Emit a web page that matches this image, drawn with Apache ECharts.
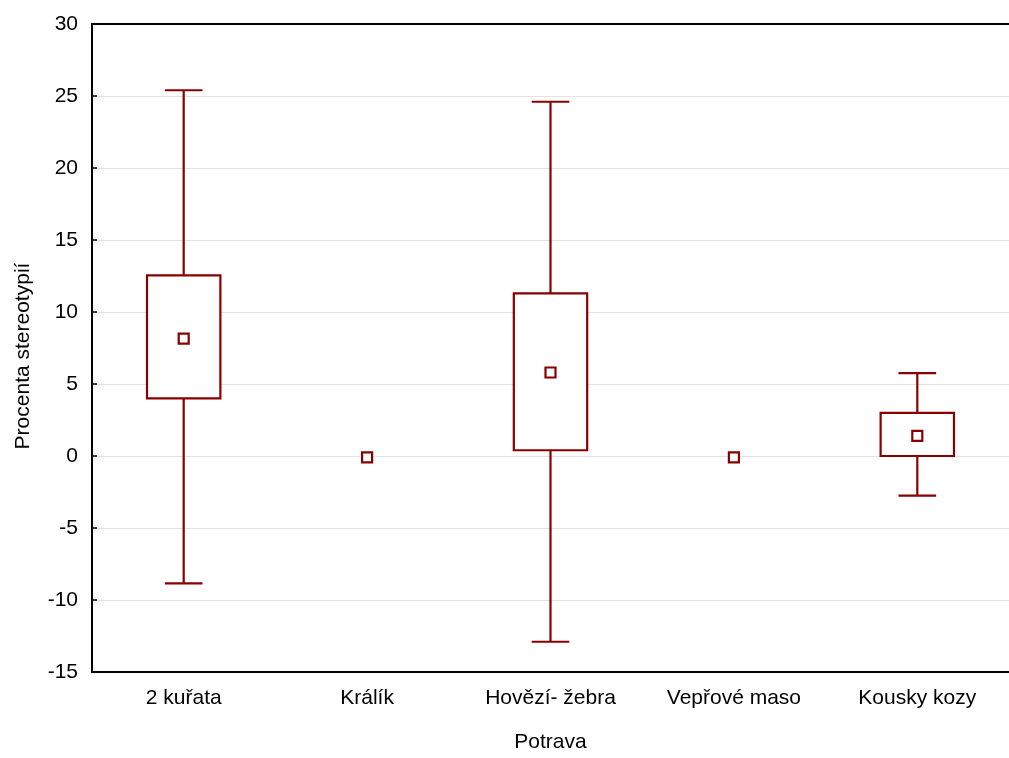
<!DOCTYPE html>
<html>
<head>
<meta charset="utf-8">
<script src="https://cdn.jsdelivr.net/npm/echarts@6/dist/echarts.min.js"></script>
<style>
html,body{margin:0;padding:0;background:#fff;}
#chart{width:1009px;height:758px;}
</style>
</head>
<body>
<div id="chart"></div>
<script>
const categories = ['2 kuřata', 'Králík', 'Hovězí- žebra', 'Vepřové maso', 'Kousky kozy'];
const whiskerLow  = [-8.85, null, -12.9, null, -2.75];
const boxLow      = [4.0,   null, 0.4,   null, 0.0];
const boxHigh     = [12.55, null, 11.3,  null, 3.0];
const whiskerHigh = [25.4,  null, 24.6,  null, 5.75];
const means       = [8.15, -0.1, 5.8, -0.1, 1.4];
const yTicks = { min: -15, max: 30, interval: 5 };

const COLOR = '#880000';
const FONT = 'Liberation Sans, Arial, Helvetica, sans-serif';

const boxData = [];
categories.forEach((c, i) => {
  if (boxLow[i] !== null) boxData.push([i, whiskerLow[i], boxLow[i], boxHigh[i], whiskerHigh[i]]);
});

const chart = echarts.init(document.getElementById('chart'), null, { renderer: 'canvas' });
chart.setOption({
  animation: false,
  backgroundColor: '#fff',
  textStyle: { fontFamily: FONT },
  grid: { left: 92, top: 24, bottom: 79, width: 922, containLabel: false },
  xAxis: [
    {
      type: 'category', data: categories, position: 'bottom', boundaryGap: true,
      name: 'Potrava', nameLocation: 'middle', nameGap: 60,
      nameTextStyle: { fontSize: 21, color: '#000', fontFamily: FONT },
      axisLine: { onZero: false, lineStyle: { color: '#000', width: 2 } },
      axisTick: { inside: true, length: 5, alignWithLabel: true, lineStyle: { color: '#000', width: 1.5 } },
      axisLabel: { fontSize: 21, color: '#000', margin: 16, fontFamily: FONT },
      splitLine: { show: false }
    },
    {
      type: 'category', data: categories, position: 'top', boundaryGap: true,
      axisLine: { onZero: false, lineStyle: { color: '#000', width: 2 } },
      axisTick: { inside: true, length: 5, alignWithLabel: true, lineStyle: { color: '#000', width: 1.5 } },
      axisLabel: { show: false },
      splitLine: { show: false }
    }
  ],
  yAxis: {
    type: 'value', min: yTicks.min, max: yTicks.max, interval: yTicks.interval,
    name: 'Procenta stereotypií', nameLocation: 'middle', nameGap: 58,
    nameTextStyle: { fontSize: 21, color: '#000', fontFamily: FONT, padding: [0, 16, 0, 0] },
    axisLine: { show: true, onZero: false, lineStyle: { color: '#000', width: 2 } },
    axisTick: { show: true, inside: true, length: 5, lineStyle: { color: '#000', width: 1.5 } },
    axisLabel: { fontSize: 21, color: '#000', margin: 14, fontFamily: FONT },
    splitLine: { show: true, lineStyle: { color: '#e2e2e2', width: 1 } }
  },
  series: [
    {
      type: 'custom',
      xAxisIndex: 0,
      data: boxData,
      encode: { x: 0, y: [1, 2, 3, 4] },
      z: 3,
      renderItem: function (params, api) {
        const idx = api.value(0);
        const pWl = api.coord([idx, api.value(1)]);
        const pBl = api.coord([idx, api.value(2)]);
        const pBh = api.coord([idx, api.value(3)]);
        const pWh = api.coord([idx, api.value(4)]);
        const band = api.size([1, 0])[0];
        const bw = band * 0.4;
        const cw = band * 0.205;
        const x = pWl[0];
        const st = { stroke: COLOR, lineWidth: 2.2, fill: null };
        return {
          type: 'group',
          children: [
            { type: 'line', shape: { x1: x, y1: pWl[1], x2: x, y2: pBl[1] }, style: st },
            { type: 'line', shape: { x1: x, y1: pBh[1], x2: x, y2: pWh[1] }, style: st },
            { type: 'line', shape: { x1: x - cw / 2, y1: pWl[1], x2: x + cw / 2, y2: pWl[1] }, style: st },
            { type: 'line', shape: { x1: x - cw / 2, y1: pWh[1], x2: x + cw / 2, y2: pWh[1] }, style: st },
            { type: 'rect', shape: { x: x - bw / 2, y: pBh[1], width: bw, height: pBl[1] - pBh[1] },
              style: { stroke: COLOR, lineWidth: 2.2, fill: '#fff' } }
          ]
        };
      }
    },
    {
      type: 'scatter',
      xAxisIndex: 0,
      data: means.map((v, i) => [i, v]),
      symbol: 'rect',
      symbolSize: 10,
      z: 5,
      itemStyle: { color: '#fff', borderColor: COLOR, borderWidth: 2.2, opacity: 1 }
    }
  ]
});
</script>
</body>
</html>
